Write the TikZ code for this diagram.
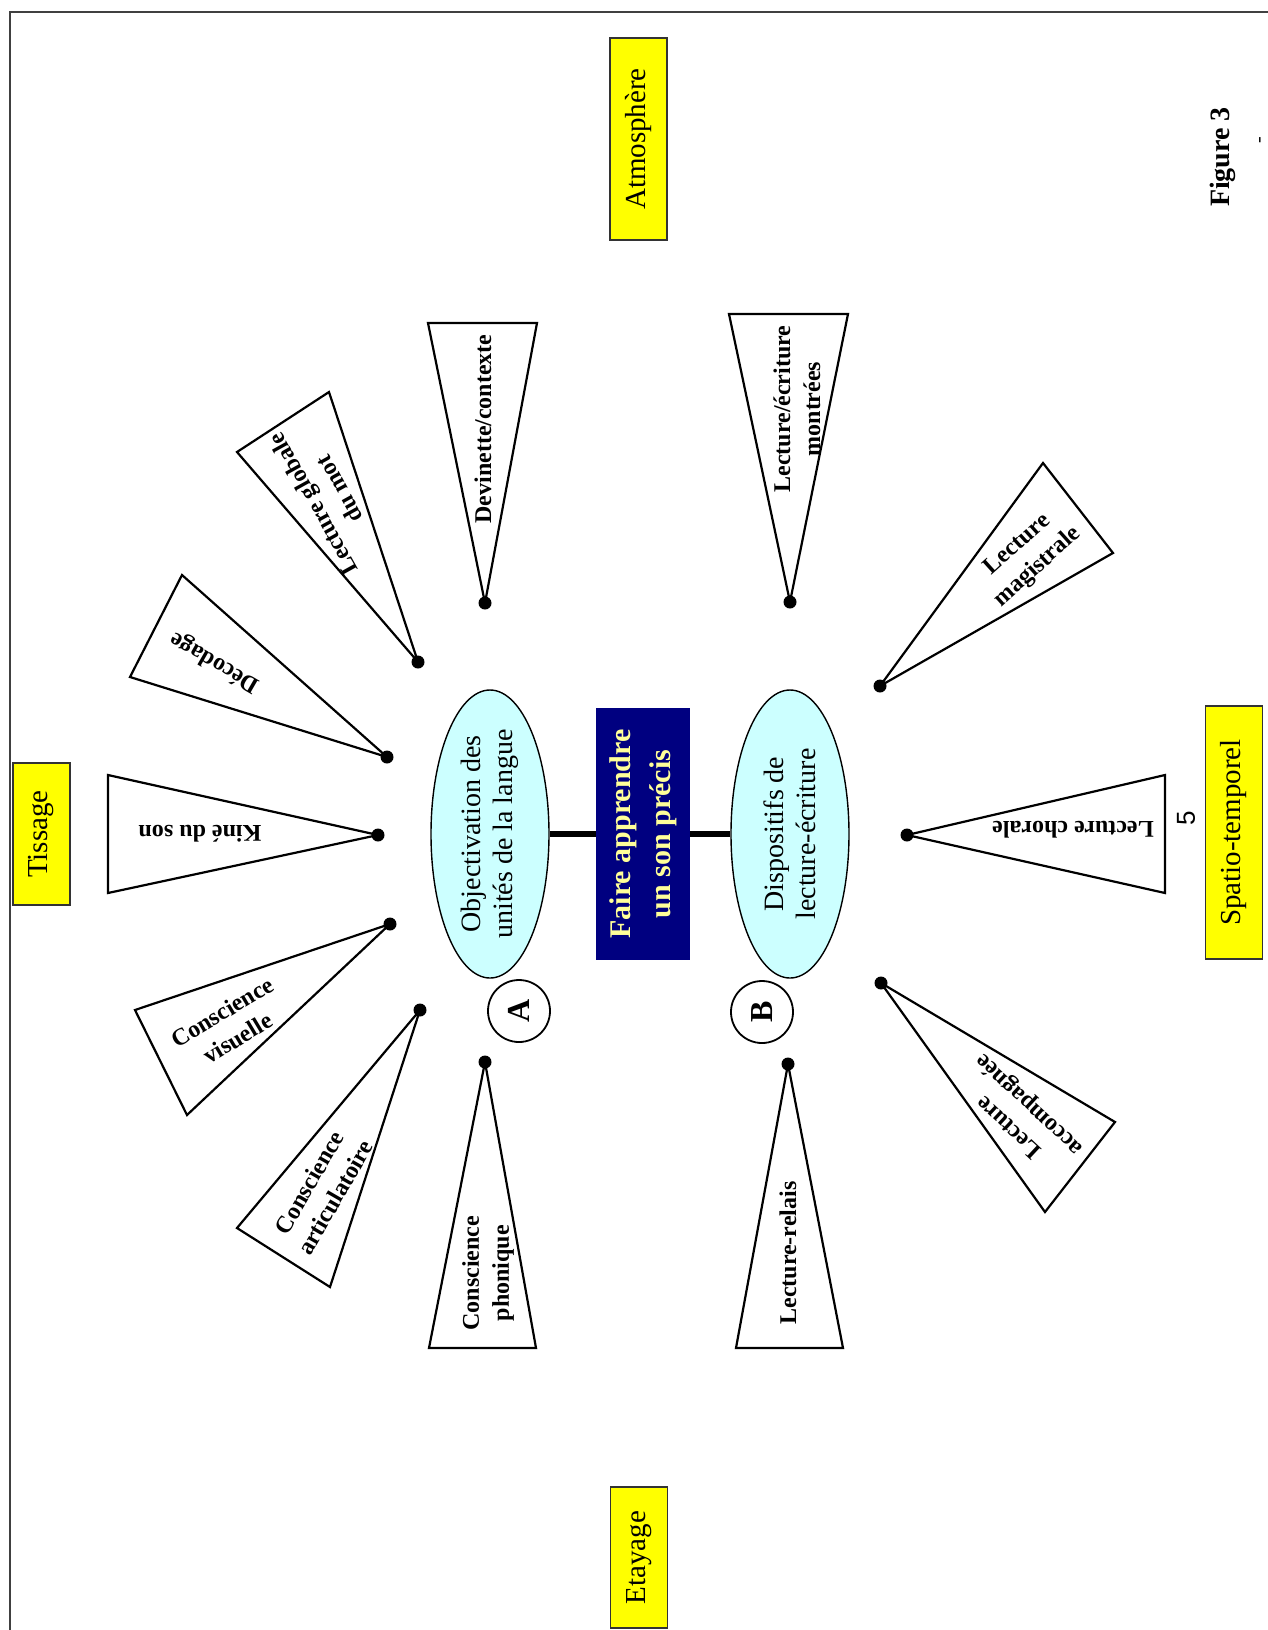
\documentclass[tikz,border=0pt]{standalone}
\usepackage{fontspec}
\setmainfont{Liberation Serif}
\newfontfamily\numfont{Liberation Sans}
\usetikzlibrary{shapes.geometric}
\definecolor{yfill}{RGB}{255,255,0}
\definecolor{cyanfill}{RGB}{204,255,255}
\definecolor{navyfill}{RGB}{0,0,128}
\definecolor{lighty}{RGB}{255,255,153}
\begin{document}
\begin{tikzpicture}[x=0.5pt,y=-0.5pt,
  tri/.style={draw=black, line width=1.1pt, fill=white, line join=miter},
  apexdot/.style={circle, fill=black, inner sep=0pt, minimum size=6.5pt},
  tlabel/.style={font=\fontsize{12}{15}\selectfont\bfseries, align=center, inner sep=0pt},
  yellowbox/.style={draw=black!80, line width=0.9pt, fill=yfill, rotate=90, inner sep=0pt, minimum height=28.5pt, font=\fontsize{14.5}{16}\selectfont},
  ellbox/.style={ellipse, draw=black, line width=0.7pt, fill=cyanfill, rotate=90, inner sep=0pt, minimum height=59pt, minimum width=144pt},
  elltext/.style={rotate=90, align=center, inner sep=0pt, font=\fontsize{14}{16}\selectfont},
  letterc/.style={circle, draw=black, line width=0.9pt, fill=white, rotate=90, inner sep=0pt, minimum size=31pt, font=\fontsize{16}{16}\selectfont\bfseries},
  link/.style={line width=3pt, black}
]
\useasboundingbox (0,0) rectangle (1268,1630);
\fill[white] (0,0) rectangle (1268,1630);
% frame
\draw[line width=1.2pt, black!75] (10,1630) -- (10,12) -- (1268,12);

% yellow corner boxes
\node[yellowbox, minimum width=101pt] (atmo) at (638.5,139) {Atmosphère};
\node[yellowbox, minimum width=71pt] (tiss) at (41.5,834) {Tissage};
\node[yellowbox, minimum width=126.5pt] (spat) at (1234,832.5) {Spatio-temporel};
\node[yellowbox, minimum width=70.5pt] (etay) at (639,1557.5) {Etayage};

% figure caption
\node[rotate=90, inner sep=0pt, font=\fontsize{14}{16}\selectfont\bfseries] (fig) at (1223,157) {Figure 3};
\node[rotate=90, inner sep=0pt, font=\fontsize{10}{12}\selectfont] (dash) at (1262,140) {-};
\node[rotate=90, inner sep=0pt, font=\fontsize{13}{14}\selectfont\numfont] (five) at (1186,818) {5};

% triangles (A side)
\coordinate (t1a) at (485,603);  \coordinate (t1b) at (428,323);  \coordinate (t1c) at (537,323);
\coordinate (t2a) at (418,662);  \coordinate (t2b) at (237,452);  \coordinate (t2c) at (329,392);
\coordinate (t3a) at (387,757);  \coordinate (t3b) at (182,575);  \coordinate (t3c) at (130,677);
\coordinate (t4a) at (378,835);  \coordinate (t4b) at (108,775);  \coordinate (t4c) at (108,893);
\coordinate (t5a) at (390,924);  \coordinate (t5b) at (135,1010); \coordinate (t5c) at (187,1115);
\coordinate (t6a) at (420,1010); \coordinate (t6b) at (237,1228); \coordinate (t6c) at (330,1287);
\coordinate (t7a) at (485,1062); \coordinate (t7b) at (429,1348); \coordinate (t7c) at (536,1348);
% triangles (B side)
\coordinate (t8a) at (788,1064); \coordinate (t8b) at (736,1348); \coordinate (t8c) at (843,1348);
\coordinate (t9a) at (881,983);  \coordinate (t9b) at (1115,1122); \coordinate (t9c) at (1045,1212);
\coordinate (t10a) at (907,835); \coordinate (t10b) at (1165,775); \coordinate (t10c) at (1165,893);
\coordinate (t11a) at (880,686); \coordinate (t11b) at (1043,463); \coordinate (t11c) at (1113,553);
\coordinate (t12a) at (790,602); \coordinate (t12b) at (729,314); \coordinate (t12c) at (848,314);

\foreach \i in {1,...,12}{
  \draw[tri] (t\i a) -- (t\i b) -- (t\i c) -- cycle;
  \node[apexdot] (dot\i) at (t\i a) {};
}

% triangle labels
\node[tlabel, rotate=90] (l1) at (483,429) {Devinette/contexte};
\node[tlabel, rotate=119] (l2) at (326,497) {Lecture globale\\du mot};
\node[tlabel, rotate=150] (l3) at (215,662) {Décodage};
\node[tlabel, rotate=180] (l4) at (200,834) {Kiné du son};
\node[tlabel, rotate=31] (l5) at (230,1025) {Conscience\\visuelle};
\node[tlabel, rotate=60] (l6) at (322,1190) {Conscience\\articulatoire};
\node[tlabel, rotate=90] (l7) at (488,1273) {Conscience\\phonique};
\node[tlabel, rotate=90] (l8) at (788,1253) {Lecture-relais};
\node[tlabel, rotate=137] (l9) at (1020,1115) {Lecture\\accompagnée};
\node[tlabel, rotate=180] (l10) at (1073,830) {Lecture chorale};
\node[tlabel, rotate=42] (l11) at (1028,556) {Lecture\\magistrale};
\node[tlabel, rotate=90] (l12) at (797,409) {Lecture/écriture\\montrées};

% center
\node[ellbox] (ellA) at (490,834) {};
\node[elltext] (txtA) at (ellA.center) {Objectivation des\\unités de la langue};
\node[ellbox] (ellB) at (790,834) {};
\node[elltext] (txtB) at (ellB.center) {Dispositifs de\\lecture-écriture};
\node[rectangle, fill=navyfill, rotate=90, inner sep=0pt, minimum width=126pt, minimum height=47pt,
      text=lighty, align=center, font=\fontsize{15}{20}\selectfont\bfseries] (core) at (643,834)
      {Faire apprendre\\un son précis};
\draw[link] (ellA) -- (core);
\draw[link] (core) -- (ellB);

\node[letterc] (circA) at (519,1011) {A};
\node[letterc] (circB) at (762,1012) {B};
\end{tikzpicture}
\end{document}
